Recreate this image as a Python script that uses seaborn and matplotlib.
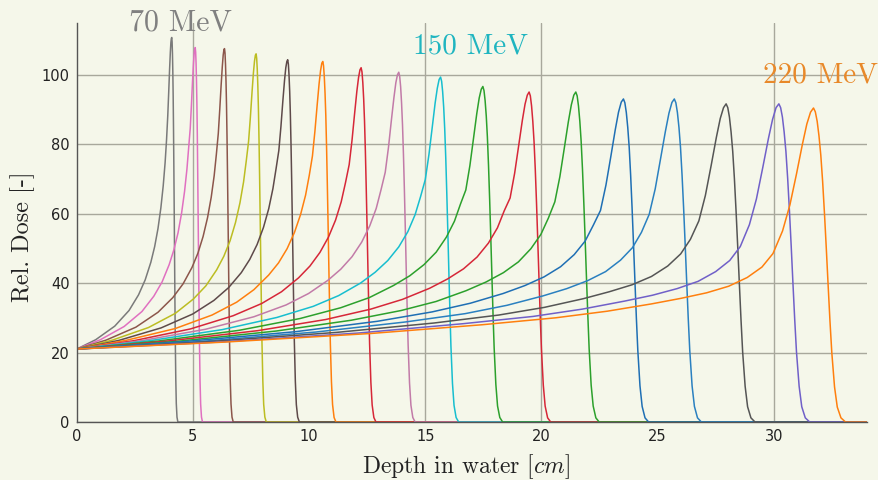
import matplotlib
matplotlib.use("Agg")
import matplotlib.pyplot as plt
import seaborn as sns
import pandas as pd

# ---------------- data (read / estimated from the reference) ----------------
ENERGY_LABELS = ["70", "80", "90", "100", "110", "120", "130", "140", "150",
                 "160", "170", "180", "190", "200", "210", "220", "230"]

DEPTH_70 = [0, 0.818, 1.636, 2.250, 2.659, 2.945, 3.190, 3.354, 3.497, 3.620, 3.722, 3.804, 3.865,
            3.918, 3.959, 3.996, 4.029, 4.053, 4.074, 4.09,
            4.105, 4.120, 4.135, 4.150, 4.165, 4.180, 4.195, 4.210, 4.225, 4.240, 4.263, 4.285, 4.315, 4.353, 34.0]
DOSE_70 = [21, 23.7, 27.6, 32.1, 36.6, 40.9, 46.0, 50.5, 55.7, 61.6, 68.0, 74.7, 81.2,
           88.2, 95.0, 101.5, 106.5, 109.3, 110.5, 110.7,
           109.4, 106.1, 101.0, 94.1, 84.7, 73.5, 61.1, 48.3, 35.6, 24.5, 12.4, 5.3, 1.4, 0, 0]

DEPTH_80 = [0, 1.020, 2.040, 2.805, 3.315, 3.672, 3.978, 4.182, 4.361, 4.514, 4.641, 4.743, 4.820,
            4.886, 4.937, 4.983, 5.024, 5.054, 5.080, 5.10,
            5.118, 5.136, 5.154, 5.172, 5.190, 5.207, 5.225, 5.243, 5.261, 5.279, 5.306, 5.333, 5.369, 5.413, 34.0]
DOSE_80 = [21, 23.7, 27.5, 31.8, 36.2, 40.3, 45.3, 49.6, 54.5, 60.2, 66.4, 72.8, 79.2,
           84.6, 91.4, 98.0, 103.2, 106.2, 107.5, 107.8,
           106.5, 103.3, 98.3, 91.6, 82.5, 71.6, 59.5, 47.0, 34.7, 23.8, 12.1, 5.2, 1.4, 0, 0]

DEPTH_90 = [0, 1.272, 2.544, 3.498, 4.134, 4.579, 4.961, 5.215, 5.438, 5.629, 5.788, 5.915, 6.010,
            6.093, 6.156, 6.214, 6.265, 6.303, 6.335, 6.36,
            6.382, 6.403, 6.425, 6.446, 6.468, 6.489, 6.511, 6.532, 6.554, 6.575, 6.607, 6.640, 6.683, 6.736, 34.0]
DOSE_90 = [21, 23.6, 27.3, 31.6, 35.8, 39.8, 44.5, 48.6, 53.4, 58.8, 64.7, 70.9, 77.1,
           83.1, 90.0, 96.9, 102.3, 105.6, 107.2, 107.5,
           106.2, 103.0, 98.0, 91.4, 82.2, 71.4, 59.3, 46.9, 34.6, 23.8, 12.0, 5.2, 1.4, 0, 0]

DEPTH_100 = [0, 1.544, 3.088, 4.246, 5.018, 5.558, 6.022, 6.330, 6.601, 6.832, 7.025, 7.180, 7.295,
             7.396, 7.473, 7.542, 7.604, 7.651, 7.689, 7.72,
             7.745, 7.770, 7.795, 7.820, 7.846, 7.871, 7.896, 7.921, 7.946, 7.971, 8.009, 8.046, 8.097, 8.159, 34.0]
DOSE_100 = [21, 23.6, 27.2, 31.3, 35.4, 39.2, 43.8, 47.7, 52.2, 57.4, 63.1, 69.1, 75.1,
            80.8, 87.7, 94.7, 100.5, 103.9, 105.6, 106.0,
            104.7, 101.5, 96.7, 90.1, 81.1, 70.4, 58.5, 46.2, 34.1, 23.4, 11.9, 5.1, 1.4, 0, 0]

DEPTH_110 = [0, 1.816, 3.632, 4.994, 5.902, 6.538, 7.082, 7.446, 7.763, 8.036, 8.263, 8.444, 8.581,
             8.699, 8.789, 8.871, 8.944, 8.998, 9.044, 9.08,
             9.109, 9.137, 9.166, 9.194, 9.223, 9.252, 9.280, 9.309, 9.337, 9.366, 9.409, 9.452, 9.509, 9.581, 34.0]
DOSE_110 = [21, 23.5, 27.1, 31.1, 35.0, 38.7, 43.0, 46.8, 51.1, 56.0, 61.4, 67.2, 73.0,
            78.2, 85.1, 92.4, 98.4, 102.0, 103.8, 104.3,
            103.0, 99.9, 95.1, 88.7, 79.8, 69.3, 57.6, 45.5, 33.6, 23.1, 11.7, 5.0, 1.4, 0, 0]

DEPTH_120 = [0, 2.118, 4.236, 5.825, 6.884, 7.625, 8.260, 8.684, 9.054, 9.372, 9.637, 9.849, 10.008,
             10.145, 10.251, 10.346, 10.431, 10.495, 10.548, 10.59,
             10.622, 10.655, 10.687, 10.720, 10.752, 10.784, 10.817, 10.849, 10.882, 10.914, 10.963, 11.011, 11.076, 11.157, 34.0]
DOSE_120 = [21, 23.5, 26.9, 30.8, 34.5, 38.1, 42.3, 45.8, 49.9, 54.6, 59.8, 65.3, 71.0,
            76.6, 83.7, 91.1, 97.4, 101.2, 103.3, 103.8,
            102.6, 99.4, 94.7, 88.2, 79.4, 68.9, 57.3, 45.3, 33.4, 22.9, 11.6, 5.0, 1.3, 0, 0]

DEPTH_130 = [0, 2.448, 4.896, 6.732, 7.956, 8.813, 9.547, 10.037, 10.465, 10.832, 11.138, 11.383, 11.567,
             11.726, 11.848, 11.958, 12.056, 12.130, 12.191, 12.24,
             12.277, 12.313, 12.350, 12.386, 12.423, 12.459, 12.496, 12.532, 12.569, 12.605, 12.660, 12.715, 12.788, 12.879, 34.0]
DOSE_130 = [21, 23.4, 26.8, 30.6, 34.1, 37.5, 41.5, 44.9, 48.8, 53.2, 58.1, 63.4, 68.9,
            74.1, 81.1, 88.7, 95.2, 99.2, 101.4, 102.0,
            100.8, 97.7, 93.0, 86.7, 78.0, 67.7, 56.3, 44.5, 32.8, 22.5, 11.4, 4.9, 1.3, 0, 0]

DEPTH_140 = [0, 2.772, 5.544, 7.623, 9.009, 9.979, 10.811, 11.365, 11.850, 12.266, 12.613, 12.890, 13.098,
             13.278, 13.416, 13.541, 13.652, 13.735, 13.805, 13.86,
             13.900, 13.941, 13.981, 14.021, 14.062, 14.102, 14.142, 14.182, 14.223, 14.263, 14.323, 14.384, 14.465, 14.565, 34.0]
DOSE_140 = [21, 23.4, 26.7, 30.3, 33.7, 37.0, 40.8, 44.0, 47.6, 51.8, 56.5, 61.5, 66.9,
            71.9, 79.0, 86.8, 93.4, 97.7, 100.0, 100.7,
            99.5, 96.5, 91.8, 85.6, 77.0, 66.9, 55.6, 43.9, 32.4, 22.3, 11.3, 4.8, 1.3, 0, 0]

DEPTH_150 = [0, 3.132, 6.264, 8.613, 10.179, 11.275, 12.215, 12.841, 13.389, 13.859, 14.251, 14.564, 14.799,
             15.002, 15.159, 15.300, 15.425, 15.519, 15.597, 15.66,
             15.705, 15.749, 15.794, 15.838, 15.883, 15.927, 15.972, 16.016, 16.061, 16.105, 16.172, 16.239, 16.328, 16.439, 34.0]
DOSE_150 = [21, 23.4, 26.6, 30.1, 33.3, 36.4, 40.0, 43.1, 46.5, 50.4, 54.8, 59.7, 64.9,
            69.8, 77.0, 84.8, 91.8, 96.1, 98.6, 99.3,
            98.1, 95.1, 90.6, 84.4, 76.0, 65.9, 54.8, 43.3, 32.0, 21.9, 11.1, 4.8, 1.3, 0, 0]

DEPTH_160 = [0, 3.496, 6.992, 9.614, 11.362, 12.586, 13.634, 14.334, 14.945, 15.470, 15.907, 16.256, 16.519,
             16.746, 16.921, 17.078, 17.218, 17.323, 17.410, 17.48,
             17.529, 17.577, 17.626, 17.674, 17.723, 17.772, 17.820, 17.869, 17.917, 17.966, 18.039, 18.112, 18.209, 18.331, 34.0]
DOSE_160 = [21, 23.3, 26.4, 29.8, 32.9, 35.8, 39.3, 42.1, 45.3, 48.9, 53.2, 57.8, 62.8,
            66.8, 73.8, 81.7, 88.8, 93.3, 95.8, 96.6,
            95.4, 92.5, 88.1, 82.1, 73.9, 64.1, 53.3, 42.1, 31.1, 21.3, 10.8, 4.6, 1.3, 0, 0]

DEPTH_170 = [0, 3.894, 7.788, 10.709, 12.656, 14.018, 15.187, 15.965, 16.647, 17.231, 17.718, 18.107, 18.399,
             18.652, 18.847, 19.022, 19.178, 19.295, 19.392, 19.47,
             19.523, 19.576, 19.629, 19.682, 19.736, 19.789, 19.842, 19.895, 19.948, 20.001, 20.081, 20.160, 20.267, 20.399, 34.0]
DOSE_170 = [21, 23.3, 26.3, 29.5, 32.5, 35.3, 38.5, 41.2, 44.1, 47.5, 51.5, 55.9, 60.8,
            64.5, 71.6, 79.6, 86.8, 91.5, 94.1, 95.0,
            93.9, 91.0, 86.6, 80.8, 72.7, 63.1, 52.4, 41.4, 30.6, 21.0, 10.6, 4.6, 1.2, 0, 0]

DEPTH_180 = [0, 4.296, 8.592, 11.814, 13.962, 15.466, 16.754, 17.614, 18.365, 19.010, 19.547, 19.976, 20.299,
             20.578, 20.793, 20.986, 21.158, 21.287, 21.394, 21.48,
             21.538, 21.595, 21.653, 21.710, 21.768, 21.825, 21.883, 21.940, 21.998, 22.055, 22.141, 22.228, 22.343, 22.486, 34.0]
DOSE_180 = [21, 23.2, 26.2, 29.3, 32.1, 34.7, 37.8, 40.3, 43.0, 46.1, 49.9, 54.0, 58.7,
            63.4, 70.6, 78.9, 86.4, 91.3, 94.1, 95.0,
            93.9, 91.0, 86.6, 80.8, 72.7, 63.1, 52.4, 41.4, 30.6, 21.0, 10.6, 4.6, 1.2, 0, 0]

DEPTH_190 = [0, 4.706, 9.412, 12.942, 15.295, 16.942, 18.353, 19.295, 20.118, 20.824, 21.412, 21.883, 22.236,
             22.542, 22.777, 22.989, 23.177, 23.318, 23.436, 23.53,
             23.592, 23.654, 23.716, 23.778, 23.840, 23.901, 23.963, 24.025, 24.087, 24.149, 24.242, 24.335, 24.459, 24.613, 34.0]
DOSE_190 = [21, 23.2, 26.0, 29.0, 31.7, 34.2, 37.0, 39.3, 41.8, 44.7, 48.2, 52.1, 56.7,
            60.9, 68.2, 76.5, 84.1, 89.2, 92.1, 93.0,
            91.9, 89.1, 84.8, 79.1, 71.1, 61.8, 51.3, 40.5, 29.9, 20.6, 10.4, 4.5, 1.2, 0, 0]

DEPTH_200 = [0, 5.144, 10.288, 14.146, 16.718, 18.518, 20.062, 21.090, 21.991, 22.762, 23.405, 23.920, 24.305,
             24.640, 24.897, 25.128, 25.334, 25.489, 25.617, 25.72,
             25.787, 25.853, 25.920, 25.986, 26.053, 26.119, 26.186, 26.252, 26.319, 26.385, 26.485, 26.585, 26.718, 26.884, 34.0]
DOSE_200 = [21, 23.1, 25.9, 28.8, 31.2, 33.6, 36.3, 38.4, 40.7, 43.3, 46.6, 50.2, 54.6,
            59.8, 67.1, 75.8, 83.6, 88.9, 92.0, 93.0,
            91.9, 89.1, 84.8, 79.1, 71.1, 61.8, 51.3, 40.5, 29.9, 20.6, 10.4, 4.5, 1.2, 0, 0]

DEPTH_210 = [0, 5.590, 11.180, 15.373, 18.168, 20.124, 21.801, 22.919, 23.897, 24.736, 25.435, 25.994, 26.413,
             26.776, 27.056, 27.307, 27.531, 27.698, 27.838, 27.95,
             28.021, 28.092, 28.163, 28.234, 28.306, 28.377, 28.448, 28.519, 28.590, 28.661, 28.768, 28.874, 29.017, 29.194, 34.0]
DOSE_210 = [21, 23.1, 25.8, 28.5, 30.8, 33.0, 35.5, 37.5, 39.5, 41.9, 44.9, 48.4, 52.6,
            57.9, 65.2, 73.9, 82.0, 87.4, 90.5, 91.6,
            90.5, 87.8, 83.5, 77.9, 70.1, 60.8, 50.6, 39.9, 29.5, 20.2, 10.3, 4.4, 1.2, 0, 0]

DEPTH_220 = [0, 6.044, 12.088, 16.621, 19.643, 21.758, 23.572, 24.780, 25.838, 26.745, 27.500, 28.105, 28.558,
             28.951, 29.253, 29.525, 29.767, 29.948, 30.099, 30.22,
             30.296, 30.372, 30.447, 30.523, 30.599, 30.675, 30.751, 30.826, 30.902, 30.978, 31.092, 31.205, 31.357, 31.547, 34.0]
DOSE_220 = [21, 23.0, 25.6, 28.3, 30.4, 32.5, 34.8, 36.5, 38.4, 40.5, 43.3, 46.5, 50.5,
            56.8, 64.2, 73.2, 81.5, 87.1, 90.5, 91.6,
            90.5, 87.8, 83.5, 77.9, 70.1, 60.8, 50.6, 39.9, 29.5, 20.2, 10.3, 4.4, 1.2, 0, 0]

DEPTH_230 = [0, 6.342, 12.684, 17.441, 20.612, 22.831, 24.734, 26.002, 27.112, 28.063, 28.856, 29.490, 29.966,
             30.378, 30.695, 30.981, 31.234, 31.424, 31.583, 31.71,
             31.789, 31.868, 31.946, 32.025, 32.104, 32.183, 32.262, 32.340, 32.419, 32.498, 32.616, 32.734, 32.892, 33.089, 34.0]
DOSE_230 = [21, 23.0, 25.5, 28.0, 30.0, 31.9, 34.0, 35.6, 37.2, 39.1, 41.6, 44.6, 48.5,
            55.0, 62.5, 71.5, 80.0, 85.8, 89.2, 90.4,
            89.3, 86.6, 82.4, 76.8, 69.2, 60.0, 49.9, 39.4, 29.1, 20.0, 10.1, 4.3, 1.2, 0, 0]

X_TICKS = [0, 5, 10, 15, 20, 25, 30]
Y_TICKS = [0, 20, 40, 60, 80, 100]

# ---------------- style ----------------
BG = "#f5f7ea"
PALETTE = ["#7a7a7a", "#e070c0", "#8c564b", "#bcbd22", "#5e4a4a", "#ff7f0e",
           "#d62738", "#c27ba8", "#17becf", "#2ca02c", "#d62738", "#2ca02c",
           "#1f6fb4", "#2a80c0", "#555555", "#7060c8", "#ff7f0e"]
GRID_X = [5, 15, 20, 30]
GRID_C = "#a8a89c"

depths = [DEPTH_70, DEPTH_80, DEPTH_90, DEPTH_100, DEPTH_110, DEPTH_120, DEPTH_130,
          DEPTH_140, DEPTH_150, DEPTH_160, DEPTH_170, DEPTH_180, DEPTH_190, DEPTH_200,
          DEPTH_210, DEPTH_220, DEPTH_230]
doses = [DOSE_70, DOSE_80, DOSE_90, DOSE_100, DOSE_110, DOSE_120, DOSE_130,
         DOSE_140, DOSE_150, DOSE_160, DOSE_170, DOSE_180, DOSE_190, DOSE_200,
         DOSE_210, DOSE_220, DOSE_230]

frames = []
for lab, d, v in zip(ENERGY_LABELS, depths, doses):
    frames.append(pd.DataFrame({"depth": d, "dose": v, "energy": lab}))
df = pd.concat(frames, ignore_index=True)

sns.set_theme(style="white")
plt.rcParams["font.family"] = ["DejaVu Sans"]
plt.rcParams["mathtext.fontset"] = "cm"

fig = plt.figure(figsize=(8.79, 4.80), dpi=100, facecolor=BG)
ax = fig.add_axes([0.0873, 0.1208, 0.8987, 0.8322])
ax.set_facecolor(BG)

sns.lineplot(data=df, x="depth", y="dose", hue="energy", hue_order=ENERGY_LABELS,
             palette=PALETTE, estimator=None, sort=False, legend=False,
             linewidth=1.1, ax=ax)

ax.set_xlim(0, 34)
ax.set_ylim(0, 115)
ax.set_xticks(X_TICKS)
ax.set_yticks(Y_TICKS)
ax.tick_params(axis="both", length=0, labelsize=10.5, colors="#222222", pad=5)

ax.set_axisbelow(True)
ax.yaxis.grid(True, color=GRID_C, linewidth=1.0)
ax.xaxis.grid(False)
for gx in GRID_X:
    ax.axvline(gx, color=GRID_C, linewidth=1.0, zorder=0.5)

for s in ["top", "right"]:
    ax.spines[s].set_visible(False)
for s in ["left", "bottom"]:
    ax.spines[s].set_color("#555555")
    ax.spines[s].set_linewidth(1.0)

ax.set_xlabel("Depth in water [$cm$]", fontfamily="cmr10", fontsize=17, color="#222222", labelpad=6)
ax.set_ylabel("Rel. Dose [-]", fontfamily="cmr10", fontsize=17.5, color="#222222")
ax.xaxis.set_label_coords(0.493, -0.075, transform=ax.transAxes)
ax.xaxis.label.set_verticalalignment("top")
ax.yaxis.set_label_coords(-0.053, 0.465, transform=ax.transAxes)

ax.text(4.45, 114.9, "70 MeV", fontfamily="cmr10", fontsize=21.5, color="#808080",
        ha="center", va="center", clip_on=False)
ax.text(16.96, 108.2, "150 MeV", fontfamily="cmr10", fontsize=21, color="#1fb5c0",
        ha="center", va="center", clip_on=False)
ax.text(32.0, 99.8, "220 MeV", fontfamily="cmr10", fontsize=21, color="#e8892a",
        ha="center", va="center", clip_on=False)

fig.savefig("out.png", dpi=100, facecolor=BG)
